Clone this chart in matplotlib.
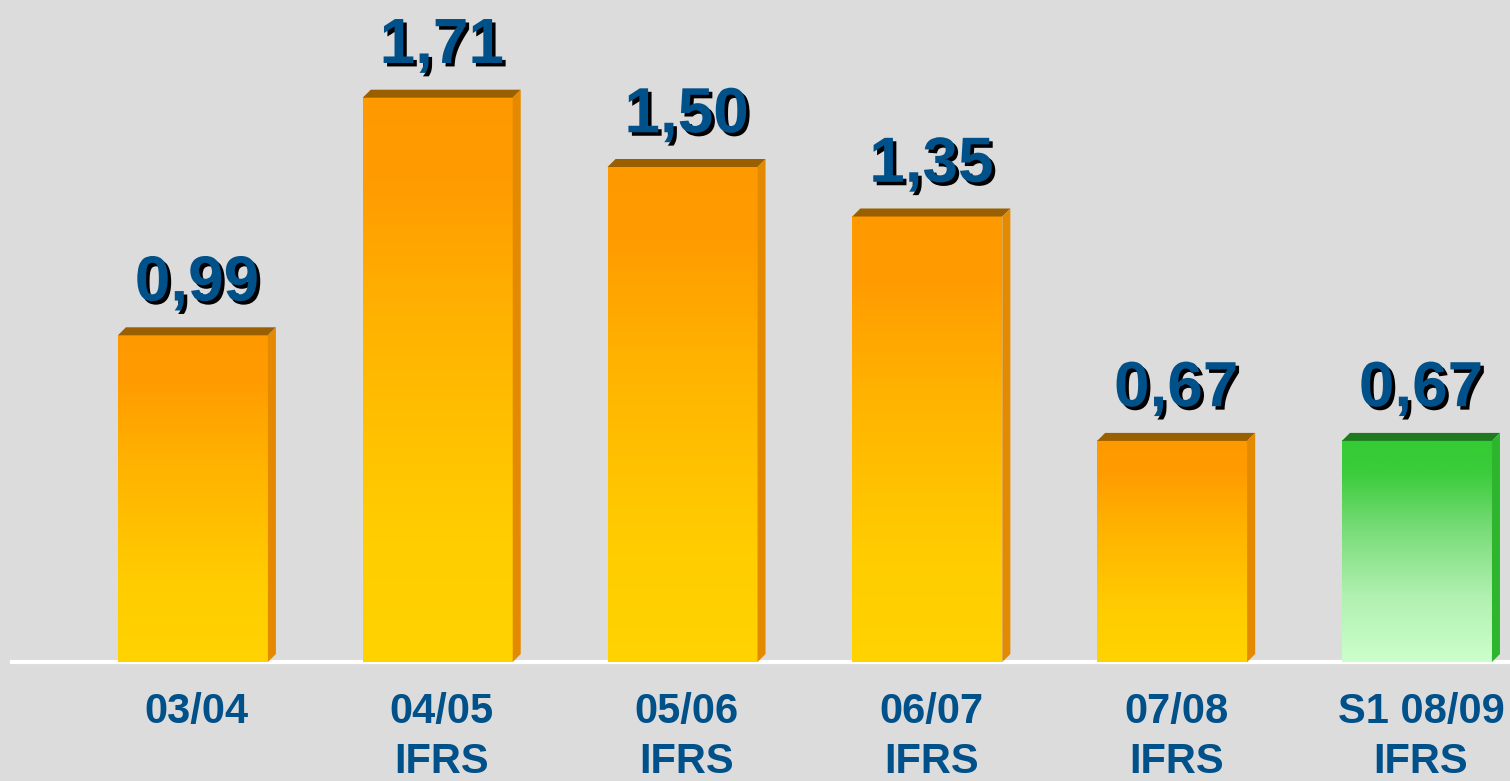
import numpy as np
import matplotlib
matplotlib.use("Agg")
import matplotlib.pyplot as plt
from matplotlib.colors import LinearSegmentedColormap
from matplotlib.patches import Polygon
import matplotlib.patheffects as pe

# ---- data ----
categories = ["03/04", "04/05\nIFRS", "05/06\nIFRS", "06/07\nIFRS", "07/08\nIFRS", "S1 08/09\nIFRS"]
values = [0.99, 1.71, 1.50, 1.35, 0.67, 0.67]
value_labels = ["0,99", "1,71", "1,50", "1,35", "0,67", "0,67"]
is_partial = [False, False, False, False, False, True]

W, H = 1510, 781
DPI = 100
plt.rcParams['font.family'] = ['Liberation Sans', 'DejaVu Sans']

fig = plt.figure(figsize=(W / DPI, H / DPI), dpi=DPI)
fig.patch.set_facecolor("#dcdcdc")
ax = fig.add_axes([0, 0, 1, 1])
ax.set_facecolor("#dcdcdc")
ax.axis("off")

px_per_y = 330.0           # pixels per unit on y
base_px = 119.0            # baseline from bottom in px
xlim = (-0.788, 5.38)
ylim = (-base_px / px_per_y, (H - base_px) / px_per_y)
px_per_x = W / (xlim[1] - xlim[0])

x = np.arange(len(values))
bar_w = 150 / px_per_x
bars = ax.bar(x, values, width=bar_w, color="none", edgecolor="none", zorder=3)

orange_cmap = LinearSegmentedColormap.from_list(
    "og", [(0.0, "#ffd300"), (0.25, "#ffcc00"), (0.6, "#ffb300"), (0.85, "#ff9c00"), (1.0, "#ff9900")])
green_cmap = LinearSegmentedColormap.from_list(
    "gr", [(0.0, "#ccffcc"), (0.3, "#b0f0b0"), (0.6, "#78dc78"), (0.85, "#3ccc3c"), (1.0, "#33cc33")])

dx = 8 / px_per_x
dy = 8 / px_per_y
grad = np.linspace(0, 1, 256).reshape(-1, 1)

ax.axhline(0, xmin=12 / W, xmax=1, color="white", lw=3, zorder=1)

label_color = "#00508a"
for rect, lab, partial in zip(bars, value_labels, is_partial):
    x0 = rect.get_x()
    w = rect.get_width()
    h = rect.get_height()
    x1 = x0 + w
    cmap = green_cmap if partial else orange_cmap
    top_c = "#1f7a1f" if partial else "#9a5f00"
    side_c = "#2db52d" if partial else "#e38a00"
    ax.imshow(grad, extent=[x0, x1, 0, h], origin="lower", aspect="auto",
              cmap=cmap, zorder=3, interpolation="bicubic")
    ax.add_patch(Polygon([(x0, h), (x0 + dx, h + dy), (x1 + dx, h + dy), (x1, h)],
                         closed=True, facecolor=top_c, edgecolor="none", zorder=3))
    ax.add_patch(Polygon([(x1, 0), (x1, h), (x1 + dx, h + dy), (x1 + dx, dy)],
                         closed=True, facecolor=side_c, edgecolor="none", zorder=3))
    t = ax.annotate(lab, xy=(x0 + w / 2 + dx / 2, h), xytext=(0, 25), textcoords="offset points",
                    ha="center", va="baseline", fontsize=46, fontweight="bold",
                    color=label_color, zorder=5)
    t.set_path_effects([pe.withSimplePatchShadow(offset=(2.5, -2.5), shadow_rgbFace="black", alpha=1.0)])

for xi, cat in zip(x, categories):
    lines = cat.split("\n")
    for k, line in enumerate(lines):
        ax.annotate(line, xy=(xi + dx / 2, 0), xytext=(0, -44 - k * 36), textcoords="offset points",
                    ha="center", va="baseline", fontsize=30, fontweight="bold",
                    color=label_color, zorder=5)

ax.set_xlim(*xlim)
ax.set_ylim(*ylim)

fig.savefig("out.png", dpi=DPI, facecolor=fig.get_facecolor())
